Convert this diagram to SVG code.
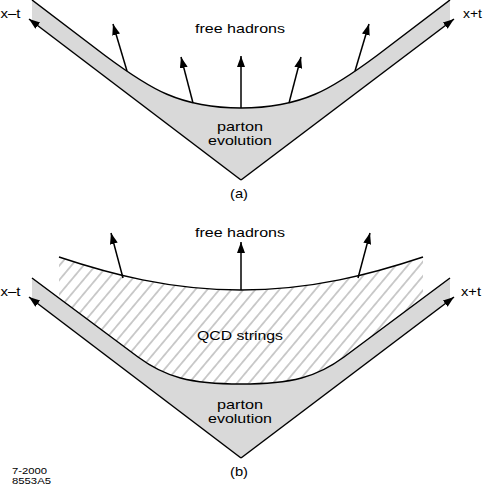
<svg xmlns="http://www.w3.org/2000/svg" width="484" height="485" viewBox="0 0 484 485">
<style>
.ln{fill:none;stroke:#000;stroke-width:1.5}
.ar{fill:none;stroke:#000;stroke-width:1.5;marker-end:url(#ah)}
.gray{fill:#d9d9d9;stroke:none}
text{font-family:"Liberation Sans",Arial,sans-serif;font-size:13px;fill:#000}
.c{text-anchor:middle}
.sm{font-size:9px}
</style>
<defs>
<marker id="ah" markerUnits="userSpaceOnUse" markerWidth="14" markerHeight="10" refX="11" refY="4" orient="auto">
<path d="M0,0 L11,4 L0,8 Z" fill="#000"/>
</marker>
<pattern id="hatch" patternUnits="userSpaceOnUse" width="9.2" height="20" patternTransform="rotate(40)">
<line x1="4.6" y1="0" x2="4.6" y2="20" stroke="#9a9a9a" stroke-width="1"/>
</pattern>
<clipPath id="hclip">
<path d="M59,257 C110,274 170,290 241,290 C312,290 372,274 423,257 L423,298 L344,357 C317,377 292,384 241,384 C190,384 165,377 138,357 L59,298 Z"/>
</clipPath>
</defs>

<g id="panel-a">
<g id="a-region">
<path class="gray" d="M32,0 L105,55.5 C150,89 180,108 241,108 C302,108 332,89 377,55.5 L450,0 L450,22.5 L241,180 L32,21 Z"/>
</g>
<g id="a-connectors">
<path class="ln" d="M32,0 L105,55.5 C150,89 180,108 241,108 C302,108 332,89 377,55.5 L450,0"/>
<path class="ar" d="M241,180 L29,19"/>
<path class="ar" d="M241,180 L454,19"/>
<path class="ar" d="M127,71 L113,24"/>
<path class="ar" d="M193,103 L181,57"/>
<path class="ar" d="M241,108 L241,56"/>
<path class="ar" d="M289,103 L301,57"/>
<path class="ar" d="M355,71 L369,24"/>
</g>
<g id="a-labels">
<text class="c" x="240" y="33" textLength="90" lengthAdjust="spacingAndGlyphs">free hadrons</text>
<text class="c" x="240" y="131" textLength="46" lengthAdjust="spacingAndGlyphs">parton</text>
<text class="c" x="240" y="145" textLength="64" lengthAdjust="spacingAndGlyphs">evolution</text>
<text class="c" x="239" y="198" textLength="18" lengthAdjust="spacingAndGlyphs">(a)</text>
<text x="0.5" y="18" textLength="20" lengthAdjust="spacingAndGlyphs">x–t</text>
<text x="463" y="18" textLength="19" lengthAdjust="spacingAndGlyphs">x+t</text>
</g>
</g>

<g id="panel-b">
<g id="b-region">
<path class="gray" d="M32,278 L138,357 C165,377 190,384 241,384 C292,384 317,377 344,357 L450,278 L450,300.5 L241,458 L32,299 Z"/>
<rect x="50" y="250" width="380" height="140" fill="url(#hatch)" clip-path="url(#hclip)"/>
</g>
<g id="b-connectors">
<path class="ln" d="M32,278 L138,357 C165,377 190,384 241,384 C292,384 317,377 344,357 L450,278"/>
<path class="ln" d="M59,257 C110,274 170,290 241,290 C312,290 372,274 423,257"/>
<path class="ar" d="M241,458 L29,297"/>
<path class="ar" d="M241,458 L454,297"/>
<path class="ar" d="M123,278 L111,233"/>
<path class="ar" d="M241,290 L241,242"/>
<path class="ar" d="M358,278 L370,233"/>
</g>
<g id="b-labels">
<text class="c" x="240" y="237" textLength="90" lengthAdjust="spacingAndGlyphs">free hadrons</text>
<text class="c" x="240" y="340" textLength="86" lengthAdjust="spacingAndGlyphs">QCD strings</text>
<text class="c" x="240" y="409" textLength="46" lengthAdjust="spacingAndGlyphs">parton</text>
<text class="c" x="240" y="423" textLength="64" lengthAdjust="spacingAndGlyphs">evolution</text>
<text class="c" x="239" y="476" textLength="18" lengthAdjust="spacingAndGlyphs">(b)</text>
<text x="0.5" y="296" textLength="20" lengthAdjust="spacingAndGlyphs">x–t</text>
<text x="461" y="296" textLength="20" lengthAdjust="spacingAndGlyphs">x+t</text>
</g>
</g>

<g id="footer">
<text class="sm" x="12" y="474" textLength="35" lengthAdjust="spacingAndGlyphs">7-2000</text>
<text class="sm" x="12" y="484" textLength="39" lengthAdjust="spacingAndGlyphs">8553A5</text>
</g>
</svg>
